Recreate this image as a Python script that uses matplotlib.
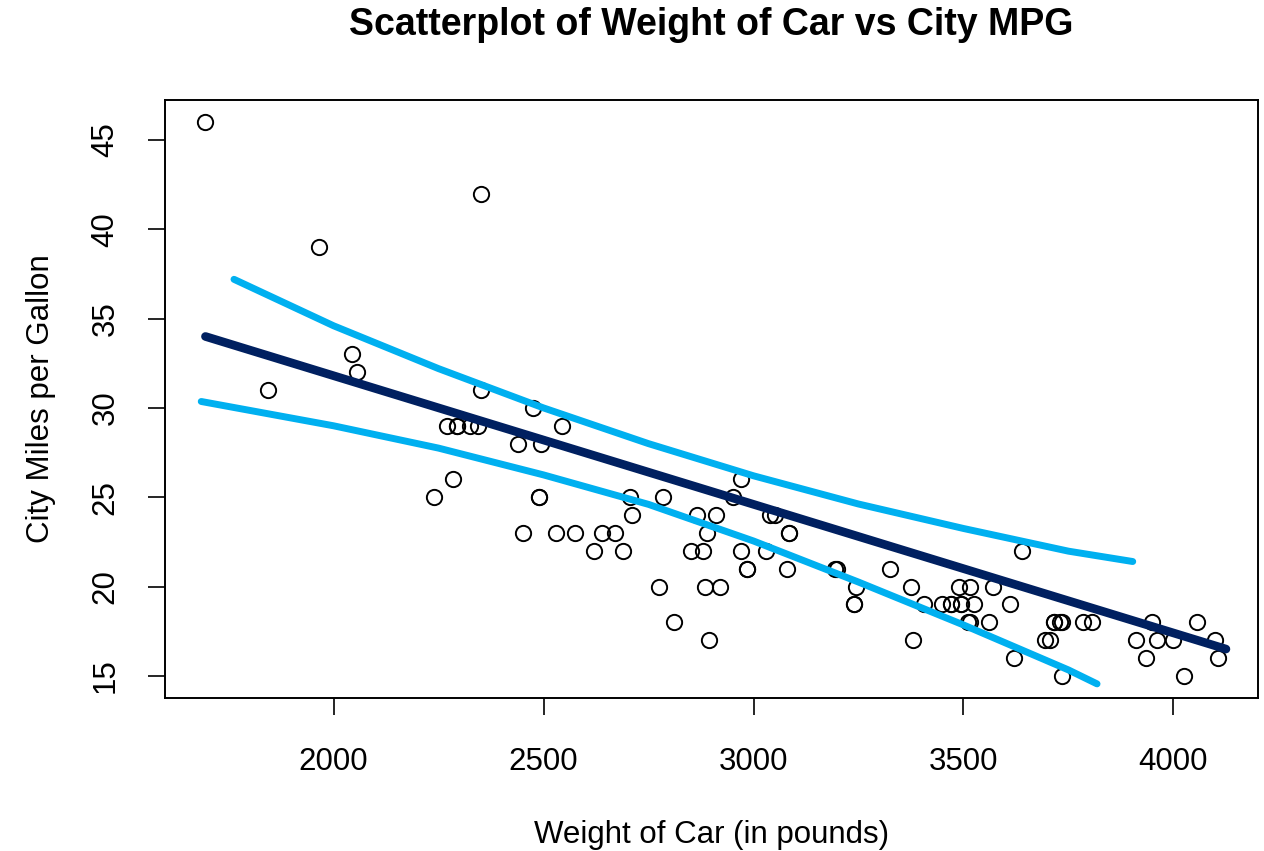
import matplotlib.pyplot as plt

# Cars93: curb weight (lb) and city MPG
weight = [2705, 3560, 3375, 3405, 3640, 2880, 3470, 4105, 3495, 3620,
          3935, 2490, 2785, 3240, 3195, 3715, 4025, 3910, 3380, 3515,
          3085, 3570, 2270, 2670, 2970, 3705, 3080, 3805, 2295, 3490,
          1845, 2530, 2690, 2850, 2710, 3735, 3325, 3950, 1695, 2475,
          2865, 2350, 3040, 2345, 2620, 2285, 2885, 4000, 3510, 3515,
          3695, 4055, 2325, 2440, 2970, 3735, 2895, 2920, 3525, 2450,
          3610, 2295, 3730, 2545, 3050, 4100, 3200, 2910, 2890, 3715,
          3470, 2640, 2350, 2575, 3240, 3450, 3495, 2775, 2495, 2045,
          2490, 3085, 1965, 2055, 2950, 3030, 3785, 2240, 3960, 2985,
          2810, 2985, 3245]
mpg_city = [25, 18, 20, 19, 22, 22, 19, 16, 19, 16,
            16, 25, 25, 19, 21, 18, 15, 17, 17, 20,
            23, 20, 29, 23, 22, 17, 21, 18, 29, 20,
            31, 23, 22, 22, 24, 15, 21, 18, 46, 30,
            24, 42, 24, 29, 22, 26, 20, 17, 18, 18,
            17, 18, 29, 28, 26, 18, 17, 20, 19, 23,
            19, 29, 18, 29, 24, 17, 21, 24, 23, 18,
            19, 23, 31, 23, 19, 19, 19, 20, 28, 33,
            25, 23, 39, 32, 25, 22, 18, 25, 17, 21,
            18, 21, 20]

# fitted line
fit_w = [1695, 4125]
fit_mpg = [34.0, 16.5]

# upper and lower band curves
upper_w = [1763, 2000, 2250, 2500, 2750, 3000, 3250, 3500, 3750, 3903]
upper_mpg = [37.2, 34.6, 32.2, 30.0, 28.0, 26.2, 24.62, 23.25, 21.98, 21.4]
lower_w = [1685, 2000, 2250, 2500, 2750, 3000, 3250, 3500, 3750, 3818]
lower_mpg = [30.36, 29.0, 27.75, 26.25, 24.6, 22.55, 20.25, 17.85, 15.33, 14.55]

x_ticks = [2000, 2500, 3000, 3500, 4000]
y_ticks = [15, 20, 25, 30, 35, 40, 45]

plt.rcParams['font.family'] = ['Liberation Sans', 'DejaVu Sans']

fig = plt.figure(figsize=(12.64, 8.51), dpi=100)
ax = fig.add_axes([0.1305, 0.1798, 0.8648, 0.7027])

ax.plot(weight, mpg_city, 'o', mfc='none', mec='black', ms=11, mew=1.4, zorder=3)
ax.plot(fit_w, fit_mpg, color='#002060', lw=6.2, solid_capstyle='round', zorder=4)
ax.plot(upper_w, upper_mpg, color='#00B0F0', lw=5.0, solid_capstyle='round',
        solid_joinstyle='round', zorder=4)
ax.plot(lower_w, lower_mpg, color='#00B0F0', lw=5.0, solid_capstyle='round',
        solid_joinstyle='round', zorder=4)

ax.set_xlim(1598.6, 4201.4)
ax.set_ylim(13.76, 47.24)
ax.set_xticks(x_ticks)
ax.set_yticks(y_ticks)

for s in ax.spines.values():
    s.set_linewidth(1.4)
ax.tick_params(length=12, width=1.2, labelsize=22.5)
ax.tick_params(axis='x', pad=23.5)
ax.tick_params(axis='y', pad=20, labelrotation=90)
for lab in ax.get_yticklabels():
    lab.set_va('center')

ax.set_xlabel('Weight of Car (in pounds)', fontsize=22.5, labelpad=31)
ax.set_ylabel('City Miles per Gallon', fontsize=22.5, labelpad=25)
ax.set_title('Scatterplot of Weight of Car vs City MPG', fontsize=27,
             fontweight='bold', pad=46.5)

fig.savefig('out.png', dpi=100)
